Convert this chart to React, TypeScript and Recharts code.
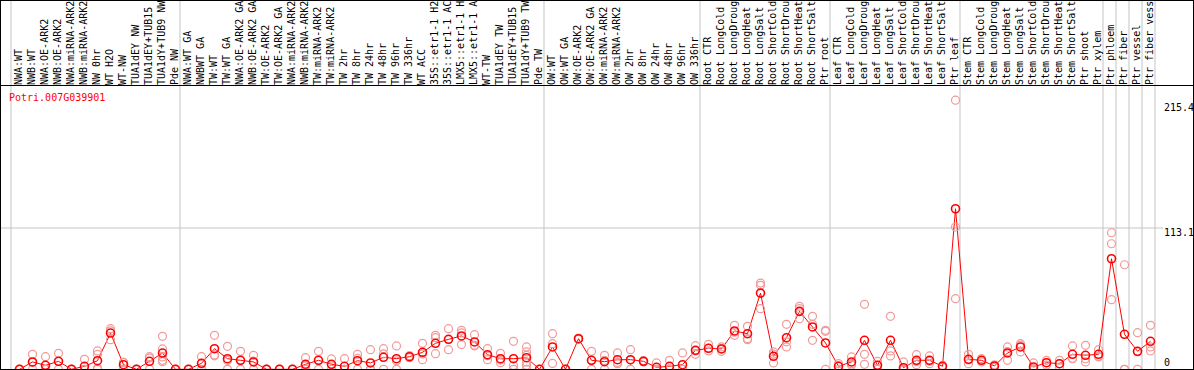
import React from 'react';
import { ComposedChart, Line, Scatter, XAxis, YAxis, ReferenceLine } from 'recharts';

const geneId = 'Potri.007G039901';

const categories = [
  'NWA:WT', 'NWB:WT', 'NWA:OE-ARK2', 'NWB:OE-ARK2', 'NWA:miRNA-ARK2', 'NWB:miRNA-ARK2', 'NW 0hr', 'WT H2O', 'WT-NW', 'TUA1dEY NW', 'TUA1dEY+TUB15', 'TUA1dY+TUB9 NW', 'Pde NW',
  'NWA:WT GA', 'NWBWT GA', 'TW:WT', 'TW:WT GA', 'NWA:OE-ARK2 GA', 'NWB:OE-ARK2 GA', 'TW:OE-ARK2', 'TW:OE-ARK2 GA', 'NWA:miRNA-ARK2', 'NWB:miRNA-ARK2', 'TW:miRNA-ARK2', 'TW:miRNA-ARK2', 'TW 2hr', 'TW 8hr', 'TW 24hr', 'TW 48hr', 'TW 96hr', 'TW 336hr', 'WT ACC', '35S::etr1-1 H2', '35S::etr1-1 AC', 'LMX5::etr1-1 H', 'LMX5::etr1-1 A', 'WT-TW', 'TUA1dEY TW', 'TUA1dEY+TUB15', 'TUA1dY+TUB9 TW', 'Pde TW',
  'OW:WT', 'OW:WT GA', 'OW:OE-ARK2', 'OW:OE-ARK2 GA', 'OW:miRNA-ARK2', 'OW:miRNA-ARK2', 'OW 2hr', 'OW 8hr', 'OW 24hr', 'OW 48hr', 'OW 96hr', 'OW 336hr',
  'Root CTR', 'Root LongCold', 'Root LongDroug', 'Root LongHeat', 'Root LongSalt', 'Root ShortCold', 'Root ShortDrou', 'Root ShortHeat', 'Root ShortSalt', 'Ptr root',
  'Leaf CTR', 'Leaf LongCold', 'Leaf LongDroug', 'Leaf LongHeat', 'Leaf LongSalt', 'Leaf ShortCold', 'Leaf ShortDrou', 'Leaf ShortHeat', 'Leaf ShortSalt', 'Ptr leaf',
  'Stem CTR', 'Stem LongCold', 'Stem LongDroug', 'Stem LongHeat', 'Stem LongSalt', 'Stem ShortCold', 'Stem ShortDrou', 'Stem ShortHeat', 'Stem ShortSalt', 'Ptr shoot', 'Ptr xylem',
  'Ptr phloem', 'Ptr fiber', 'Ptr vessel', 'Ptr fiber vess',
];

const meanValues = [
  0, 5.9, 3.2, 6.4, 0, 2.4, 6.9, 29, 3.7, 0, 6.4, 13, 0,
  0, 4.8, 16.5, 8.5, 7.2, 5.9, 0, 0, 0, 4, 7.2, 4, 2.4, 6.9, 5.1, 9.6, 8.5, 10.1, 13.6, 20.8, 24, 26.7, 21.9, 11.7, 8.5, 8.5, 9.3, 0,
  17.9, 0, 24.5, 7.2, 6.1, 7.7, 7.7, 6.4, 1.6, 2.4, 3.7, 15.2,
  16.8, 16.3, 30.7, 28.5, 61, 10.4, 25.3, 46.4, 33.9, 21.1,
  2.4, 5.9, 23.2, 3.2, 23.2, 1.3, 7.2, 7.2, 2.4, 128.5,
  8, 7.2, 2.7, 13.1, 17.9, 1.9, 5.3, 4.5, 12, 11.2, 12,
  88.5, 28, 14.4, 22.4,
];

const replicateValues: number[][] = [
  [0, 0, 0], [12, 5.5, 0], [10.1, 0, 0], [12.8, 6.4, 0], [0, 0, 0], [8, 0, 0], [14.7, 12, 1, 0], [32.5, 30.8, 23.7], [5.6, 5.5, 0], [0, 0, 0], [10.1, 9, 0], [26.4, 16.3, 9.9, 7.2, 6.1], [0, 0, 0],
  [0, 0, 0], [10.1, 4.3, 0], [27.2, 11.5, 10.8], [18.4, 7.1, 0], [14.4, 7.2, 0], [11.2, 6.5, 0], [0, 0, 0], [0, 0, 0], [0, 0, 0], [9.3, 2.7, 0], [14.4, 7.2, 0], [8.3, 3.7, 0], [8.5, 0, 0], [12, 8.7, 0], [15.7, 0, 0], [16.5, 12.3, 0], [18.7, 6.8, 0], [10.9, 10.1, 9.3], [20.8, 12.3, 7.7], [27.2, 25.3, 12.5], [32.5, 23.8, 15.7], [31.2, 29.1, 19.8], [27.7, 19.2, 18.8], [16.5, 10.9, 7.7], [12.8, 7.4, 5.3], [22.4, 3.1, 0], [17.9, 13.9, 11.2, 5.9, 3.2, 0], [0, 0, 0],
  [28.5, 20.5, 4.7], [0, 0, 0], [25, 24.5, 24], [14.4, 7.2, 0], [11.2, 7.1, 0], [13.1, 5.5, 4.5], [15.7, 7.4, 0], [7, 6.4, 5.8], [5.1, 0, 0], [7.2, 0, 0], [13.1, 0, 0], [18.9, 14.7, 12],
  [20, 16.8, 14.7], [17.9, 16.6, 14.4], [35.2, 29.7, 27.2], [34.4, 24.5, 23.7], [69, 67.2, 48.5], [13.9, 12.2, 5.1], [36, 22, 17.9], [50.4, 48.5, 40.5], [42.4, 36, 23.2], [31.2, 30.4, 0],
  [4.5, 2.7, 0], [9.9, 4.5, 3.3], [52, 12, 4], [6.4, 3.2, 0], [42.4, 14.7, 10.7], [5.9, 0, 0], [11.7, 6.2, 3.7], [10.7, 6.4, 4.5], [3.2, 2.4, 1.6], [215.4, 113.9, 56.5],
  [12, 7.5, 4.5], [8.5, 7.2, 5.9], [3.6, 2.7, 1.8], [17.9, 14.2, 7.2], [20.5, 19.3, 13.9], [5.1, 0.6, 0], [7.2, 5.3, 3.4], [7.2, 4.5, 1.8], [18.7, 8.8, 8.5], [19.2, 8.5, 5.9], [15.7, 10.4, 9.9],
  [109.3, 100.5, 55.7], [83.7, 0, 0], [29.3, 14, 0], [35.2, 17.9, 14.7],
];

const yTicks = [0, 113.1, 215.4];
const groupStarts = [0, 13, 41, 53, 63, 73, 84, 85, 86, 87, 88];

const W = 1194;
const H = 370;
const PLOT_TOP = 1;
const PLOT_W = W - 1;
const PX_PER_X = 13;
const PX_PER_Y = 1.2493;
const ZERO_Y = 369.3;
const X_DOMAIN: [number, number] = [-1.5, -1.5 + PLOT_W / PX_PER_X];
const Y_DOMAIN: [number, number] = [-(H - ZERO_Y) / PX_PER_Y, (ZERO_Y - PLOT_TOP) / PX_PER_Y];
const HEADER_VALUE = (ZERO_Y - 85.5) / PX_PER_Y;
const GRID_SHIFT = 0.654;

const FONT = '"DejaVu Sans Mono", "Liberation Mono", monospace';

const meanData = meanValues.map((v, i) => ({ x: i, y: v }));
const repData = replicateValues.flatMap((arr, i) => arr.map((v) => ({ x: i, y: v })));

const CatTick = (props: any) => {
  const { x, payload } = props;
  const label = categories[payload.value] ?? '';
  const bx = x + 2;
  const by = 85;
  return (
    <text
      x={bx}
      y={by}
      transform={`rotate(-90 ${bx} ${by})`}
      fontFamily={FONT}
      fontSize={10}
      fill="#000"
      textAnchor="start"
    >
      {label}
    </text>
  );
};

const ValueTick = (props: any) => {
  const { y, payload } = props;
  const v = payload.value;
  const dy = v === 0 ? -3.5 : v > 200 ? 10.5 : 8;
  return (
    <text x={1164} y={y + dy} fontFamily={FONT} fontSize={10} fill="#000" textAnchor="start">
      {String(v)}
    </text>
  );
};

const RepDot = (p: any) => (
  <circle cx={p.cx} cy={p.cy} r={4} fill="none" stroke="#f09a9a" strokeWidth={1.2} />
);

const MeanDot = (p: any) => (
  <circle key={`m${p.index}`} cx={p.cx} cy={p.cy} r={4} fill="none" stroke="#ff0000" strokeWidth={1.6} />
);

export default function App() {
  return (
    <div style={{ position: 'absolute', left: 0, top: 0, width: W, height: H, background: '#fff', overflow: 'hidden' }}>
      <ComposedChart width={W} height={H} margin={{ top: 0, right: 0, bottom: 0, left: 0 }}>
        <XAxis
          type="number"
          dataKey="x"
          domain={X_DOMAIN}
          allowDataOverflow
          orientation="top"
          height={PLOT_TOP}
          ticks={categories.map((_, i) => i)}
          interval={0}
          tick={<CatTick />}
          axisLine={false}
          tickLine={false}
        />
        <YAxis
          type="number"
          domain={Y_DOMAIN}
          allowDataOverflow
          orientation="right"
          width={W - PLOT_W}
          ticks={yTicks}
          interval={0}
          tick={<ValueTick />}
          axisLine={false}
          tickLine={false}
        />
        {groupStarts.map((k) => (
          <ReferenceLine key={`g${k}`} x={k - GRID_SHIFT} stroke="#c4c4c4" strokeWidth={1} />
        ))}
        <ReferenceLine
          segment={[
            { x: X_DOMAIN[0], y: yTicks[1] },
            { x: 87.96, y: yTicks[1] },
          ]}
          stroke="#c4c4c4"
          strokeWidth={1}
        />
        <ReferenceLine y={HEADER_VALUE} stroke="#000" strokeWidth={1} />
        <Scatter data={repData} dataKey="y" shape={<RepDot />} isAnimationActive={false} />
        <Line
          data={meanData}
          dataKey="y"
          stroke="#ff0000"
          strokeWidth={1}
          dot={<MeanDot />}
          activeDot={false}
          isAnimationActive={false}
        />
      </ComposedChart>
      <svg width={W} height={H} style={{ position: 'absolute', left: 0, top: 0, pointerEvents: 'none' }}>
        <text x={9} y={101} fontFamily={FONT} fontSize={10} fill="#ff0000">
          {geneId}
        </text>
      </svg>
      <div
        style={{
          position: 'absolute',
          left: 0,
          top: 0,
          width: W,
          height: H,
          border: '1px solid #000',
          boxSizing: 'border-box',
          pointerEvents: 'none',
        }}
      />
    </div>
  );
}
